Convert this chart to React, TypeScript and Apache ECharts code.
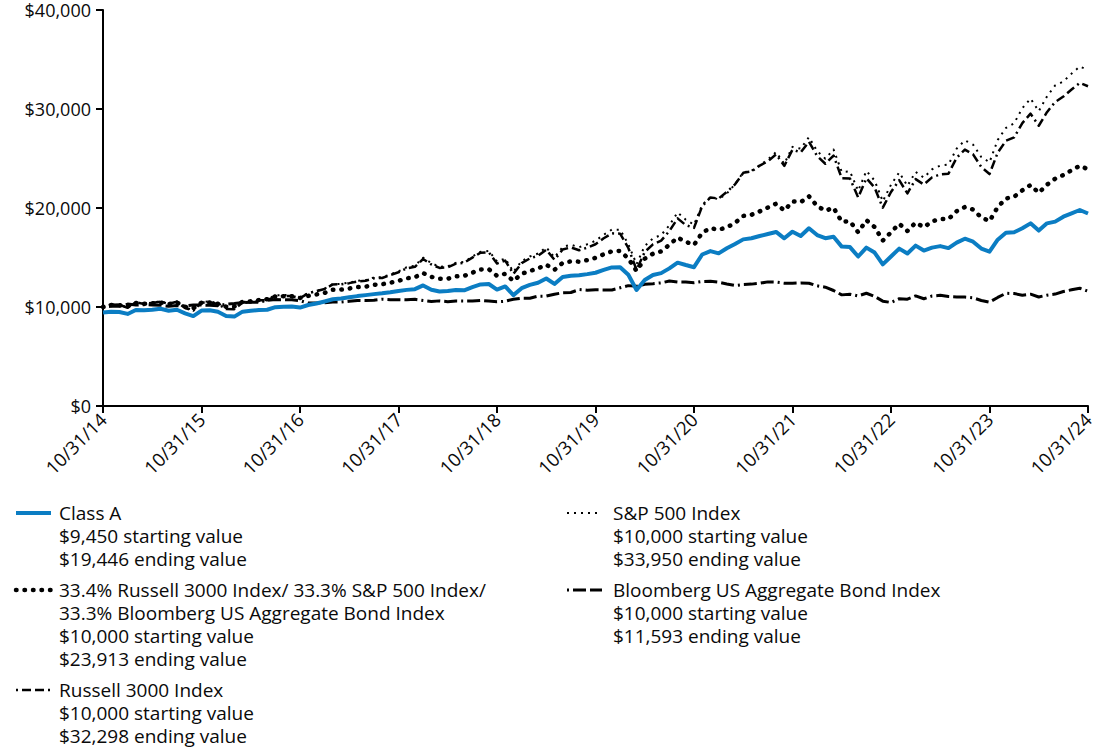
import React, { useEffect, useRef } from "react";
import * as echarts from "echarts";

// Monthly month-end values, 10/31/14 .. 10/31/24 (121 points)
const classA = [
  9450, 9530, 9500, 9300, 9700, 9680, 9720, 9820, 9620, 9720, 9350, 9080, 9640,
  9680, 9520, 9100, 9030, 9530, 9630, 9700, 9720, 9980, 10030, 10040, 9940,
  10200, 10350, 10560, 10780, 10860, 10980, 11100, 11200, 11300, 11380, 11490, 11620,
  11730, 11800, 12180, 11750, 11570, 11620, 11720, 11680, 12000, 12280, 12320, 11760,
  12080, 11200, 11900, 12230, 12450, 12880, 12330, 13040, 13150, 13200, 13320, 13460,
  13740, 14000, 14020, 13250, 11720, 12730, 13230, 13420, 13900, 14480, 14240, 14020,
  15300, 15650, 15420, 15930, 16360, 16830, 16940, 17170, 17370, 17580, 16940, 17610,
  17170, 17950, 17270, 16950, 17100, 16100, 16050, 15100, 16000, 15500, 14300, 15100,
  15900, 15400, 16200, 15700, 16000, 16150, 15950, 16500, 16900, 16600, 15900, 15590,
  16800, 17500, 17550, 17950, 18450, 17720, 18450, 18620, 19120, 19460, 19800, 19446,
];

const blend = [
  10000, 10203, 10189, 10057, 10411, 10317, 10371, 10452, 10279, 10447, 10022, 9880, 10436,
  10447, 10326, 10032, 10047, 10532, 10573, 10701, 10783, 11071, 11078, 11078, 10915,
  11120, 11272, 11422, 11750, 11757, 11868, 12010, 12056, 12239, 12301, 12450, 12645,
  12898, 13013, 13421, 13048, 12854, 12857, 13094, 13142, 13469, 13792, 13814, 13148,
  13354, 12632, 13351, 13634, 13897, 14274, 13755, 14458, 14608, 14580, 14737, 14965,
  15324, 15629, 15662, 14896, 13640, 14886, 15382, 15619, 16284, 17020, 16586, 16267,
  17509, 17965, 17802, 18044, 18495, 19201, 19312, 19657, 20043, 20436, 19743, 20663,
  20589, 21186, 20202, 19722, 20028, 18610, 18671, 17547, 18768, 18081, 16711, 17542,
  18410, 17676, 18522, 18060, 18655, 18886, 18871, 19681, 20098, 19843, 19043, 18676,
  20095, 20959, 21132, 21785, 22319, 21524, 22357, 22963, 23328, 23818, 24264, 23913,
];

const russell3000 = [
  10000, 10262, 10230, 9918, 10480, 10310, 10400, 10530, 10320, 10530, 9890, 9640, 10449,
  10480, 10310, 9800, 9785, 10445, 10485, 10670, 10695, 11085, 11100, 11100, 10892,
  11380, 11600, 11820, 12280, 12290, 12410, 12570, 12650, 12900, 12930, 13230, 13504,
  13910, 14060, 14850, 14300, 13950, 14010, 14380, 14470, 14990, 15490, 15530, 14395,
  14690, 13340, 14440, 14900, 15170, 15780, 14770, 15800, 16020, 15730, 16000, 16337,
  16940, 17440, 17410, 15960, 13760, 15560, 16330, 16710, 17670, 18950, 18270, 17995,
  20190, 21060, 20960, 21630, 22390, 23550, 23690, 24280, 24710, 25420, 24260, 25895,
  25610, 26700, 25250, 24470, 25300, 23000, 22990, 21060, 23010, 22060, 20030, 21617,
  22810, 21470, 22920, 22370, 23090, 23400, 23470, 25070, 25900, 25410, 24140, 23429,
  25590, 26790, 27140, 28580, 29530, 28310, 29680, 30710, 31260, 31970, 32640, 32298,
];

const sp500 = [
  10000, 10269, 10243, 9936, 10507, 10341, 10440, 10575, 10370, 10588, 9949, 9703, 10522,
  10554, 10387, 9872, 9859, 10527, 10568, 10758, 10786, 11184, 11200, 11202, 10998,
  11405, 11631, 11852, 12322, 12337, 12464, 12640, 12718, 12980, 13020, 13288, 13598,
  14016, 14171, 14983, 14430, 14064, 14117, 14458, 14547, 15089, 15581, 15670, 14598,
  14896, 13551, 14636, 15106, 15399, 16023, 15005, 16063, 16294, 16037, 16337, 16691,
  17297, 17819, 17812, 16346, 14327, 16164, 16933, 17270, 18244, 19556, 18813, 18313,
  20318, 21098, 20885, 21461, 22401, 23597, 23762, 24316, 24895, 25652, 24459, 26174,
  25993, 27158, 25754, 24984, 25911, 23652, 23695, 21740, 23744, 22775, 20678, 22353,
  23602, 22243, 23640, 23063, 23909, 24282, 24386, 25998, 26833, 26406, 25146, 24618,
  26866, 28086, 28558, 30083, 31052, 29785, 31262, 32384, 32779, 33576, 34294, 33950,
];

const bondAgg = [
  10000, 10071, 10080, 10292, 10195, 10242, 10205, 10181, 10070, 10140, 10126, 10195, 10197,
  10170, 10138, 10278, 10351, 10446, 10486, 10489, 10678, 10745, 10733, 10727, 10645,
  10393, 10408, 10429, 10499, 10494, 10575, 10656, 10645, 10691, 10787, 10735, 10741,
  10727, 10776, 10652, 10551, 10619, 10540, 10615, 10602, 10604, 10672, 10604, 10520,
  10583, 10778, 10892, 10886, 11095, 11098, 11296, 11438, 11463, 11760, 11698, 11733,
  11727, 11719, 11944, 12159, 12087, 12302, 12360, 12438, 12623, 12521, 12515, 12459,
  12581, 12599, 12508, 12328, 12174, 12270, 12311, 12397, 12536, 12512, 12403, 12399,
  12436, 12404, 12137, 12001, 11667, 11225, 11297, 11120, 11391, 11069, 10591, 10453,
  10838, 10789, 11121, 10833, 11108, 11176, 11054, 11014, 11006, 10936, 10658, 10490,
  10965, 11385, 11354, 11194, 11297, 11011, 11198, 11304, 11569, 11736, 11893, 11593,
];

const tickLabels = [
  "10/31/14", "10/31/15", "10/31/16", "10/31/17", "10/31/18", "10/31/19",
  "10/31/20", "10/31/21", "10/31/22", "10/31/23", "10/31/24",
];

const monthEnd = [31, 30, 31, 31, 28, 31, 30, 31, 30, 31, 31, 30]; // Oct..Sep
const categories: string[] = [];
for (let i = 0; i < 121; i++) {
  const m = ((9 + i) % 12) + 1;
  const yr = 14 + Math.floor((9 + i) / 12);
  if (i % 12 === 0) categories.push(tickLabels[i / 12]);
  else categories.push(`${m}/${monthEnd[i % 12]}/${yr}`);
}

const legendLeft = [
  { y: 513, lines: ["Class A", "$9,450 starting value", "$19,446 ending value"], key: "a" },
  {
    y: 590,
    lines: [
      "33.4% Russell 3000 Index/ 33.3% S&P 500 Index/",
      "33.3% Bloomberg US Aggregate Bond Index",
      "$10,000 starting value",
      "$23,913 ending value",
    ],
    key: "blend",
  },
  { y: 690, lines: ["Russell 3000 Index", "$10,000 starting value", "$32,298 ending value"], key: "r3000" },
];
const legendRight = [
  { y: 513, lines: ["S&P 500 Index", "$10,000 starting value", "$33,950 ending value"], key: "sp" },
  { y: 590, lines: ["Bloomberg US Aggregate Bond Index", "$10,000 starting value", "$11,593 ending value"], key: "agg" },
];

const BLUE = "#0b7dc3";
const FONT = "'Open Sans', 'Noto Sans', sans-serif";
const TEXT = "#0a0a0a";

const styles: Record<string, any> = {
  a: { color: BLUE, width: 4, type: "solid", cap: "butt" },
  blend: { color: "#000", width: 4.5, type: [0.5, 8], cap: "round" },
  r3000: { color: "#000", width: 2.5, type: [2, 4, 9, 4, 9, 4], cap: "butt" },
  sp: { color: "#000", width: 2, type: [2, 5], cap: "butt" },
  agg: { color: "#000", width: 3, type: [2, 4, 13, 4, 13, 4], cap: "butt" },
};

export default function App() {
  const ref = useRef<HTMLDivElement>(null);
  useEffect(() => {
    if (!ref.current) return;
    const chart = echarts.init(ref.current, undefined, { renderer: "svg" });

    const graphics: any[] = [];
    const addLegend = (items: any[], lx1: number, lx2: number, tx: number) => {
      items.forEach((it) => {
        const s = styles[it.key];
        graphics.push({
          type: "line",
          shape: { x1: lx1, y1: it.y, x2: lx2, y2: it.y },
          style: {
            stroke: s.color,
            lineWidth: s.width,
            lineDash: s.type === "solid" ? null : s.type,
            lineCap: s.cap,
          },
        });
        it.lines.forEach((t: string, k: number) => {
          graphics.push({
            type: "text",
            style: {
              text: t,
              x: tx,
              y: it.y + k * 23,
              font: `19px ${FONT}`,
              fill: TEXT,
              textVerticalAlign: "middle",
              verticalAlign: "middle",
            },
          });
        });
      });
    };
    addLegend(legendLeft, 16, 51, 59);
    addLegend(legendRight, 567, 602, 613);

    const mk = (name: string, data: number[], key: string, z: number) => {
      const s = styles[key];
      return {
        name,
        type: "line",
        data,
        symbol: "none",
        z,
        lineStyle: { color: s.color, width: s.width, type: s.type, cap: s.cap, join: "round" },
      };
    };

    chart.setOption({
      animation: false,
      grid: { left: 103, right: 12, top: 10, bottom: 345, containLabel: false },
      xAxis: {
        type: "category",
        data: categories,
        boundaryGap: false,
        axisLine: { lineStyle: { color: "#000", width: 2 } },
        axisTick: {
          interval: (i: number) => i % 12 === 0,
          length: 7,
          lineStyle: { color: "#000", width: 2 },
        },
        axisLabel: {
          interval: (i: number) => i % 12 === 0,
          rotate: 45,
          margin: 10,
          color: TEXT,
          fontSize: 18.5,
          fontFamily: FONT,
        },
        splitLine: { show: false },
      },
      yAxis: {
        type: "value",
        min: 0,
        max: 40000,
        interval: 10000,
        axisLine: { show: true, lineStyle: { color: "#000", width: 2 } },
        axisTick: { show: true, length: 7, lineStyle: { color: "#000", width: 2 } },
        axisLabel: {
          formatter: (v: number) => "$" + v.toLocaleString("en-US"),
          color: TEXT,
          fontSize: 18,
          fontFamily: FONT,
          margin: 12,
        },
        splitLine: { show: false },
      },
      series: [
        mk("Bloomberg US Aggregate Bond Index", bondAgg, "agg", 2),
        mk("Russell 3000 Index", russell3000, "r3000", 3),
        mk("S&P 500 Index", sp500, "sp", 4),
        mk("Blend", blend, "blend", 5),
        mk("Class A", classA, "a", 6),
      ],
      graphic: { elements: graphics },
    });
    return () => chart.dispose();
  }, []);
  return (
    <div
      ref={ref}
      style={{ position: "absolute", left: 0, top: 0, width: 1100, height: 751, background: "#fff" }}
    />
  );
}
